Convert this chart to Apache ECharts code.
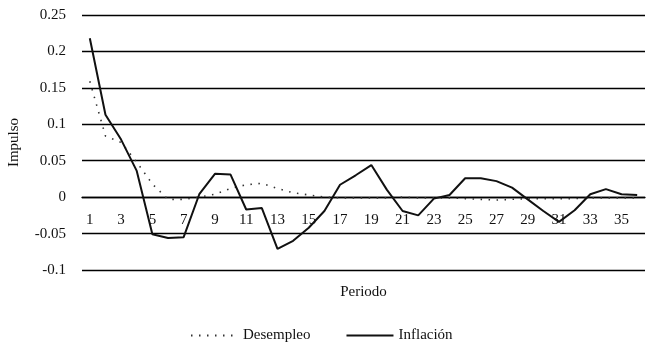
<!DOCTYPE html>
<html>
<head>
<meta charset="utf-8">
<script src="https://cdn.jsdelivr.net/npm/echarts@6/dist/echarts.min.js"></script>
<style>
  html, body { margin: 0; padding: 0; background: #fff; }
  #chart { width: 651px; height: 349px; }
</style>
</head>
<body>
<div id="chart"></div>
<script>
// periodos 1..36
var periodos = ['1','2','3','4','5','6','7','8','9','10','11','12','13','14','15','16','17','18',
  '19','20','21','22','23','24','25','26','27','28','29','30','31','32','33','34','35','36'];

var desempleo = [0.159, 0.084, 0.075, 0.048, 0.018, -0.003, -0.003, 0.000, 0.004, 0.012,
  0.017, 0.019, 0.012, 0.006, 0.003, 0.000, -0.001, -0.001, -0.001, -0.001,
  0.000, -0.001, -0.001, -0.001, -0.002, -0.003, -0.004, -0.003, -0.002, -0.002,
  -0.002, -0.002, -0.001, -0.001, -0.001, -0.001];

var inflacion = [0.218, 0.113, 0.079, 0.036, -0.051, -0.056, -0.055, 0.004, 0.032, 0.031,
  -0.017, -0.015, -0.071, -0.060, -0.042, -0.019, 0.017, 0.030, 0.044, 0.010,
  -0.019, -0.025, -0.002, 0.003, 0.026, 0.026, 0.022, 0.013, -0.003, -0.019,
  -0.034, -0.018, 0.004, 0.011, 0.004, 0.003];

var chart = echarts.init(document.getElementById('chart'));
var fuente = 'Liberation Serif';

chart.setOption({
  animation: false,
  textStyle: { fontFamily: fuente },
  grid: { left: 82, right: 6, top: 15, bottom: 79, outerBoundsMode: 'none', containLabel: false },
  legend: {
    bottom: 1,
    left: 185,
    itemWidth: 47,
    itemHeight: 12,
    itemGap: 35,
    itemStyle: { opacity: 0 },
    textStyle: { fontFamily: fuente, fontSize: 15, color: '#111' },
    data: ['Desempleo', 'Inflación']
  },
  xAxis: {
    type: 'category',
    data: periodos,
    boundaryGap: true,
    name: 'Periodo',
    nameLocation: 'middle',
    nameGap: 15,
    nameTextStyle: { fontFamily: fuente, fontSize: 15, color: '#111' },
    axisLine: { onZero: true, lineStyle: { color: '#000', width: 1.3 } },
    axisTick: { show: false },
    // las etiquetas van justo debajo del cero, dentro del área
    axisLabel: { interval: 1, margin: -57, fontFamily: fuente, fontSize: 15, color: '#111' },
    splitLine: { show: false }
  },
  yAxis: {
    type: 'value',
    min: -0.1,
    max: 0.25,
    interval: 0.05,
    name: 'Impulso',
    nameLocation: 'middle',
    nameRotate: 90,
    nameGap: 60,
    nameTextStyle: { fontFamily: fuente, fontSize: 15, color: '#111' },
    axisLine: { show: false },
    axisTick: { show: false },
    axisLabel: { margin: 16, fontFamily: fuente, fontSize: 15, color: '#111' },
    splitLine: { lineStyle: { color: '#000', width: 1.3 } }
  },
  series: [
    {
      name: 'Desempleo',
      type: 'line',
      data: desempleo,
      symbol: 'none',
      color: '#333',
      lineStyle: { color: '#333', width: 1.6, type: [1.5, 6.5] }
    },
    {
      name: 'Inflación',
      type: 'line',
      data: inflacion,
      symbol: 'none',
      color: '#111',
      lineStyle: { color: '#111', width: 2 }
    }
  ]
});
</script>
</body>
</html>
